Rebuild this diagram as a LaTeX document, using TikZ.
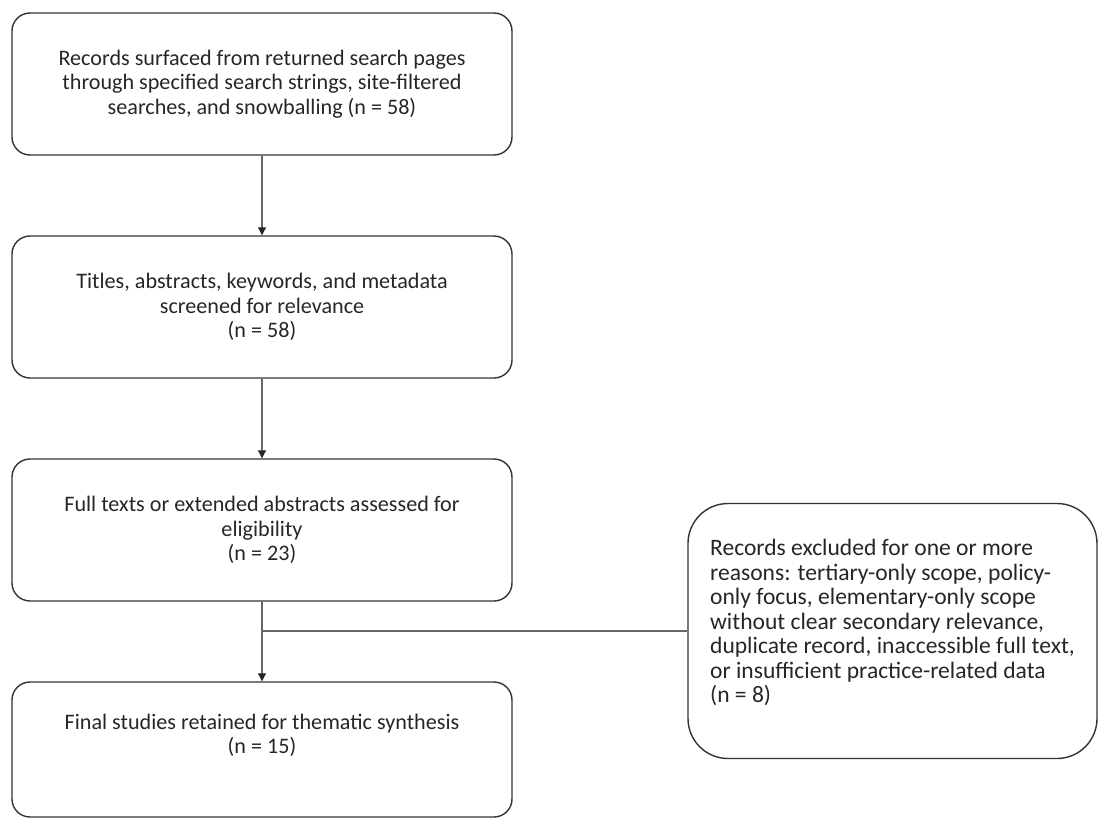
\documentclass[tikz,border=0pt]{standalone}
\usepackage{fontspec}
\setmainfont{Carlito}
\usetikzlibrary{arrows.meta}

\begin{document}
\begin{tikzpicture}[font=\fontsize{12.6pt}{13.9pt}\selectfont, line width=0.8pt,
        box/.style={draw=black!80, rounded corners=0.36cm, align=center, text=black!85},
        link/.style={draw=black!60, line width=0.6pt},
        >={Triangle[length=4.5pt, width=4.5pt, color=black!85]}]
        \useasboundingbox (0,0) rectangle (21.96,-16.36);

        \node[box, minimum width=10cm, minimum height=2.84cm]
        (found) at (5.24,-1.68) {Records surfaced from returned search pages\\
        through specified search strings, site-filtered\\
        searches, and snowballing (n = 58)};
        \node[box, minimum width=10cm, minimum height=2.84cm]
        (screen) at (5.24,-6.14) {Titles, abstracts, keywords, and metadata\\
        screened for relevance\\(n = 58)};
        \node[box, minimum width=10cm, minimum height=2.84cm]
        (full) at (5.24,-10.60) {Full texts or extended abstracts assessed for\\
        eligibility\\(n = 23)};
        \node[box, minimum width=10cm, minimum height=2.70cm]
        (final) at (5.24,-14.99) {Final studies retained for thematic synthesis\\
        (n = 15)\\[4pt]\mbox{}};

        \node[box, align=left, rounded corners=0.8cm, minimum width=8.18cm, minimum height=5.1cm,
        font=\fontsize{13.4pt}{13.9pt}\selectfont]
        (excl) at (17.85,-12.62) {Records excluded for one or more\\
        reasons: tertiary-only scope, policy-\\
        only focus, elementary-only scope\\
        without clear secondary relevance,\\
        duplicate record, inaccessible full text,\\
        or insufficient practice-related data\\
        (n = 8)\\[-2.5pt]\mbox{}};

        \draw[link, ->] (found) -- (screen);
        \draw[link, ->] (screen) -- (full);
        \draw[link, ->] (full) -- (final);
        \coordinate (split) at (full.south |- excl.west);
        \draw[link] (split) -- (excl.west);
    \end{tikzpicture}
\end{document}
